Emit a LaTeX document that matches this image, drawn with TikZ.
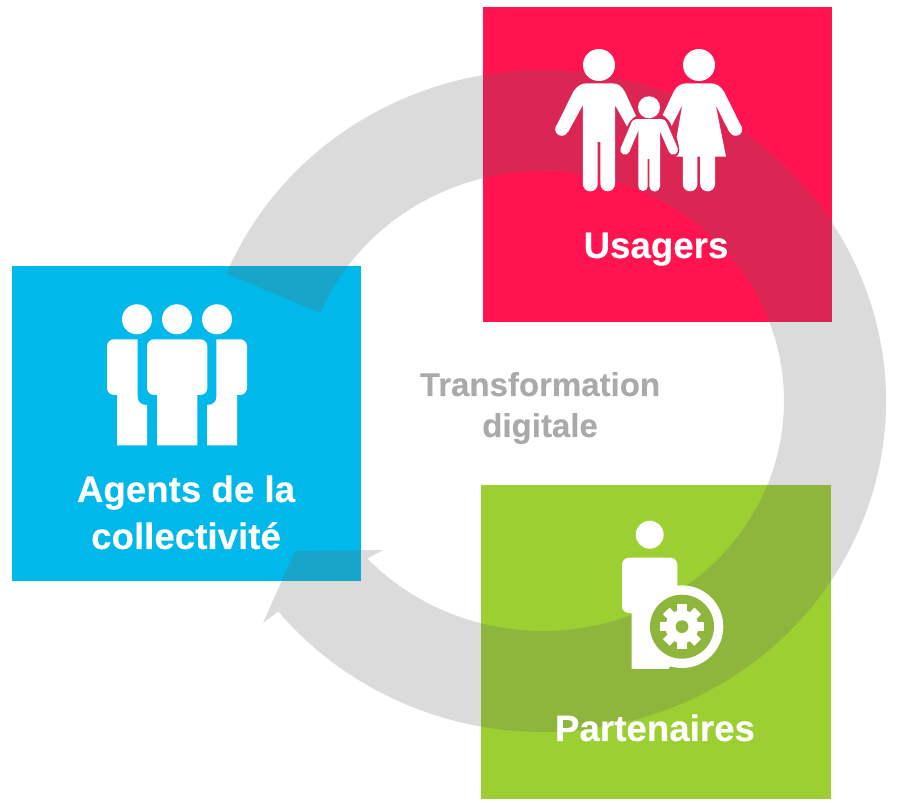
\documentclass[tikz,border=0pt]{standalone}
\usepackage{fontspec}
\usetikzlibrary{calc}
\setmainfont{Liberation Sans}
\newfontfamily\headfont[BoldFont={Liberation Sans Bold},BoldFeatures={FakeBold=0.15}]{Liberation Sans}
\definecolor{cred}{RGB}{255,20,80}
\definecolor{cblue}{RGB}{0,185,234}
\definecolor{cgreen}{RGB}{155,207,50}
\definecolor{cband}{RGB}{100,100,100}
\definecolor{cgbl}{RGB}{142,182,61}
\definecolor{ctxt}{RGB}{170,170,170}
\tikzset{
  whitelabel/.style={anchor=base,inner sep=0pt,text=white,font=\headfont\fontsize{36.7}{36.7}\selectfont\bfseries},
  graylabel/.style={anchor=base,inner sep=0pt,text=ctxt,font=\headfont\fontsize{33}{33}\selectfont\bfseries},
  icon/.style={fill=white,draw=none},
  limb/.style={draw=white,line cap=round,line join=round,line width=#1}
}
\begin{document}
\begin{tikzpicture}[x=1pt,y=1pt]
\useasboundingbox (0,0) rectangle (900,803);
\begin{scope}[yscale=-1,yshift=-803pt]
% tiles
\fill[cred] (483,7) rectangle (832,322);
\fill[cblue] (12,266) rectangle (361,581);
\fill[cgreen] (481,485) rectangle (831,799);
% ring arrow
\fill[cband,fill opacity=0.23]
  ($(543,401)+(-157.4:343pt and 331pt)$)
  arc[start angle=-157.4,end angle=140.5,x radius=343pt,y radius=331pt]
  -- (263,623) -- (295,551) -- (383,550)
  -- ($(543,401)+(136.8:241pt and 230pt)$)
  arc[start angle=136.8,end angle=-157.5,x radius=241pt,y radius=230pt]
  -- cycle;
% Usagers icon: man
\fill[icon] (599,65) circle[radius=16pt];
\fill[icon] (587,83.3) -- (612,83.3) .. controls (619,83.3) and (622,87) .. (625,92)
  -- (636,116) .. controls (632,118) and (629,122) .. (627,126.5) -- (615,105)
  -- (615,184) arc[start angle=0,end angle=180,radius=7.3pt]
  -- (600.4,142) -- (597.7,142) -- (597.7,184)
  arc[start angle=0,end angle=180,radius=7.4pt]
  -- (582.9,105) -- (568,132.3) -- (556,126.7) -- (573.3,91.7)
  .. controls (577,86) and (581,83.3) .. (587,83.3) -- cycle;
\fill[icon] (561.7,129.3) circle[radius=6.5pt];
% woman
\fill[icon] (699,65) circle[radius=16pt];
\fill[icon] (687,83.3) -- (710.4,83.3) .. controls (716.4,83.3) and (720.4,86) .. (724.1,91.7)
  -- (741.4,126.7) -- (729.4,132.3) -- (715.7,105) -- (726,156.7) -- (715,156.7)
  -- (715,184) arc[start angle=0,end angle=180,radius=7.4pt]
  -- (700,156.7) -- (697.4,156.7) -- (697.4,184)
  arc[start angle=0,end angle=180,radius=7.3pt]
  -- (682.8,156.7) -- (676,156.7) .. controls (679,155) and (680,151) .. (679,147)
  -- (676.7,136.7) -- (682.3,105) -- (671.7,126) .. controls (670,121) and (667,118) .. (662.7,115)
  -- (674,91) .. controls (677,86) and (681,83.3) .. (687,83.3) -- cycle;
\fill[icon] (735.7,129.3) circle[radius=6.5pt];
% child
\fill[icon] (649,107.3) circle[radius=11pt];
\draw[limb=9.5pt] (625,150) -- (636,124) -- (662,124) -- (673.3,150);
\fill[icon] (638.3,120) -- (660,120) -- (660,186.3)
  arc[start angle=0,end angle=180,radius=5.3pt]
  -- (649.4,159) -- (647.7,159) -- (647.7,186.3)
  arc[start angle=0,end angle=180,radius=4.7pt]
  -- cycle;
% Agents icon
\foreach \hx in {137,177,217} \fill[icon] (\hx,319.3) circle[radius=15pt];
\fill[icon] (154,339.3) -- (200.3,339.3) arc[start angle=-90,end angle=0,radius=7pt]
  -- (207.3,388) arc[start angle=0,end angle=90,radius=7pt]
  -- (197.3,395) -- (197.3,445.3) -- (157,445.3) -- (157,395) -- (154,395)
  arc[start angle=90,end angle=180,radius=7pt] -- (147,346.3)
  arc[start angle=180,end angle=270,radius=7pt] -- cycle;
\fill[icon] (114,339.3) -- (137.7,339.3) -- (137.7,397)
  .. controls (137.7,402) and (141,405) .. (147,405) -- (147,445.3) -- (117,445.3) -- (117,395)
  -- (114,395) arc[start angle=90,end angle=180,radius=7pt] -- (107,346.3)
  arc[start angle=180,end angle=270,radius=7pt] -- cycle;
\fill[icon] (240,339.3) -- (216.3,339.3) -- (216.3,397)
  .. controls (216.3,402) and (213,405) .. (207,405) -- (207,445.3) -- (237,445.3) -- (237,395)
  -- (240,395) arc[start angle=90,end angle=0,radius=7pt] -- (247,346.3)
  arc[start angle=0,end angle=-90,radius=7pt] -- cycle;
% Partenaires icon
\fill[icon] (649.7,534.7) circle[radius=14pt];
\fill[icon] (629,557.7) -- (670.3,557.7) arc[start angle=-90,end angle=0,radius=7pt]
  -- (677.3,600) -- (690,640) -- (668.3,669) -- (631.7,669) -- (631.7,613.3)
  .. controls (626,613.3) and (622,611) .. (622,606.7) -- (622,564.7)
  arc[start angle=180,end angle=270,radius=7pt] -- cycle;
\fill[icon] (682,626.7) circle[radius=41.3pt];
\fill[cgbl] (682,626.7) circle[radius=32pt];
\foreach \a in {0,45,...,315}
  \fill[icon,rotate around={\a:(682,626.7)}] (677.3,626.7) rectangle (686.7,604.4);
\fill[icon] (682,626.7) circle[radius=16.5pt];
\fill[cgbl] (682,626.7) circle[radius=6.4pt];
% labels
\node[whitelabel] (usagers) at (656,258) {Usagers};
\node[whitelabel] (agents) at (186,502) {Agents de la};
\node[whitelabel] (collect) at (186,549) {collectivité};
\node[whitelabel] (part) at (655,741) {Partenaires};
\node[graylabel] (transf) at (540,396) {Transformation};
\node[graylabel] (digit) at (540,437) {digitale};
\end{scope}
\end{tikzpicture}
\end{document}
